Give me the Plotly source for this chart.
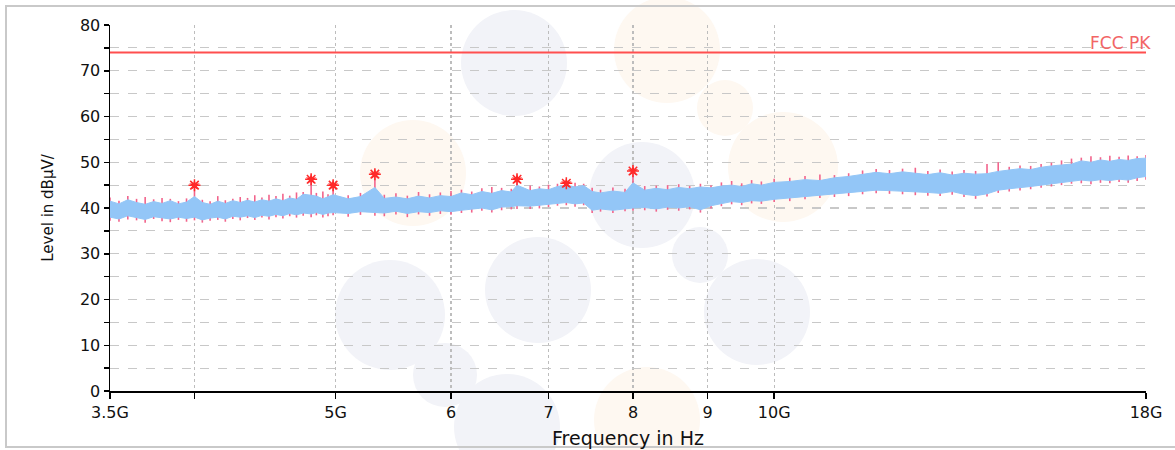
import math
import plotly.graph_objects as go

# ---------------- data ----------------
freq_ghz = [3.50, 3.55, 3.60, 3.65, 3.70, 3.75, 3.80, 3.85, 3.90, 3.95,
            4.00, 4.05, 4.10, 4.15, 4.20, 4.25, 4.30, 4.35, 4.40, 4.45,
            4.50, 4.55, 4.60, 4.65, 4.70, 4.75, 4.81, 4.85, 4.90, 4.94,
            4.98, 5.10, 5.20, 5.32, 5.40, 5.50, 5.60, 5.70, 5.80, 5.90,
            6.00, 6.10, 6.20, 6.30, 6.40, 6.50, 6.60, 6.66, 6.80, 6.90,
            7.00, 7.10, 7.20, 7.30, 7.40, 7.50, 7.60, 7.75, 7.90, 8.00,
            8.15, 8.30, 8.45, 8.60, 8.75, 8.90, 9.05, 9.20, 9.35, 9.50,
            9.65, 9.80, 10.00, 10.25, 10.50, 10.75, 11.00, 11.25, 11.50, 11.75,
            12.00, 12.25, 12.50, 12.75, 13.00, 13.25, 13.50, 13.75, 14.00, 14.25,
            14.50, 14.75, 15.00, 15.25, 15.50, 15.75, 16.00, 16.25, 16.50, 16.75,
            17.00, 17.25, 17.50, 17.75, 18.00]

blue_hi = [41.5, 40.9, 41.8, 41.2, 40.8, 41.4, 41.0, 41.6, 40.9, 41.3,
           42.5, 41.2, 40.8, 41.5, 41.0, 41.6, 41.2, 41.7, 41.3, 41.8,
           41.5, 42.0, 41.6, 42.2, 41.9, 43.0, 42.8, 42.6, 42.0, 42.5,
           42.9, 42.0, 42.5, 44.5, 42.1, 42.4, 42.0, 42.6, 42.2, 42.7,
           42.5, 43.3, 42.9, 43.6, 43.2, 43.8, 43.5, 45.0, 43.8, 44.2,
           44.0, 44.7, 45.0, 44.6, 44.9, 43.6, 43.3, 43.7, 43.4, 45.5,
           43.9, 44.3, 44.0, 44.5, 44.2, 44.6, 44.4, 44.8, 45.0, 44.7,
           45.3, 45.0, 45.6, 45.8, 46.2, 46.0, 46.6, 46.9, 47.4, 47.8,
           47.5, 47.9, 47.6, 47.3, 47.7, 47.2, 47.6, 47.4, 47.5, 48.0,
           48.3, 48.6, 48.4, 48.9, 49.2, 49.4, 49.6, 50.3, 50.0, 50.5,
           50.2, 50.6, 50.4, 50.8, 50.9]

blue_lo = [38.0, 37.6, 38.3, 37.9, 37.5, 38.1, 37.8, 37.6, 38.0, 37.7,
           38.0, 37.4, 37.8, 38.0, 37.6, 38.2, 38.0, 38.3, 37.9, 38.4,
           38.2, 38.6, 38.3, 38.8, 38.5, 38.9, 38.7, 39.0, 38.6, 38.9,
           39.0, 38.8, 39.2, 39.0, 38.9, 39.3, 38.8, 39.2, 39.0, 39.4,
           39.2, 39.5, 39.7, 40.0, 39.6, 40.2, 40.3, 40.5, 40.4, 40.6,
           40.8, 41.0, 41.2, 40.9, 41.1, 39.5, 39.8, 39.5, 39.9, 40.0,
           40.1, 39.8, 40.2, 40.0, 40.3, 39.6, 40.5, 41.0, 41.4, 41.2,
           41.6, 41.5, 41.9, 42.2, 42.5, 42.8, 43.0, 43.3, 43.6, 43.9,
           43.8, 43.7, 43.5, 43.4, 43.2, 43.6, 43.0, 42.7, 43.1, 43.9,
           44.2, 44.4, 44.7, 45.0, 45.3, 45.6, 45.9, 46.1, 45.9, 46.2,
           46.0, 46.3, 46.1, 46.6, 46.9]

pink_hi = [42.3, 41.6, 42.6, 42.0, 42.4, 41.9, 42.2, 42.0, 41.5, 42.1,
           45.0, 41.8, 41.5, 42.6, 41.7, 42.0, 42.4, 42.2, 42.8, 42.3,
           42.9, 42.6, 43.1, 42.7, 43.4, 43.5, 46.3, 43.3, 43.6, 43.0,
           45.0, 42.8, 43.3, 47.4, 42.9, 43.2, 42.7, 43.5, 43.0, 43.4,
           43.7, 44.0, 43.6, 44.3, 44.6, 44.4, 44.2, 46.3, 44.9, 44.7,
           45.1, 45.3, 45.4, 45.5, 45.3, 44.4, 44.0, 44.5, 44.2, 48.1,
           44.8, 44.9, 45.0, 45.2, 44.8, 45.3, 45.0, 45.6, 45.9, 45.4,
           46.1, 45.8, 46.4, 46.6, 47.0, 47.3, 47.2, 47.6, 48.2, 48.5,
           48.3, 48.6, 48.8, 48.1, 48.4, 48.0, 48.3, 48.1, 49.6, 50.0,
           49.0, 49.3, 49.2, 49.6, 49.9, 50.4, 50.8, 51.0, 51.3, 51.1,
           51.4, 51.2, 51.5, 51.3, 51.6]

pink_lo = [37.2, 37.0, 37.5, 37.3, 36.8, 37.6, 37.1, 36.9, 37.4, 37.0,
           37.3, 36.8, 37.2, 37.4, 37.0, 37.6, 37.3, 37.8, 37.4, 37.9,
           37.5, 38.0, 37.7, 38.2, 37.9, 38.3, 38.0, 38.4, 37.9, 38.2,
           38.4, 38.1, 38.5, 38.3, 38.2, 38.6, 38.0, 38.6, 38.3, 38.7,
           38.5, 38.9, 39.0, 39.4, 39.0, 39.5, 39.7, 39.8, 39.8, 39.9,
           40.2, 40.5, 40.6, 40.3, 40.6, 38.9, 39.2, 38.9, 39.3, 39.4,
           39.5, 39.2, 39.6, 39.4, 39.7, 39.0, 39.9, 40.4, 40.8, 40.6,
           41.0, 40.9, 41.3, 41.5, 41.9, 42.2, 42.4, 42.6, 43.0, 43.2,
           43.1, 43.0, 42.8, 42.7, 42.6, 42.9, 42.4, 42.0, 42.5, 43.3,
           43.6, 43.8, 44.1, 44.4, 44.7, 45.0, 45.3, 45.4, 45.2, 45.5,
           45.4, 45.7, 45.5, 45.9, 46.2]

peak_ghz = [4.00, 4.81, 4.98, 5.32, 6.66, 7.20, 8.00]
peak_level = [45.0, 46.3, 45.0, 47.4, 46.3, 45.4, 48.1]

limit_ghz = [3.5, 18.0]
limit_level = [74.0, 74.0]
limit_name = "FCC PK"

x_tick_ghz = [3.5, 4, 5, 6, 7, 8, 9, 10, 18]
x_tick_text = ["3.5G", "", "5G", "6", "7", "8", "9", "10G", "18G"]
y_tick_vals = list(range(0, 85, 5))
y_tick_text = [str(v) if v % 10 == 0 else "" for v in y_tick_vals]

x_title = "Frequency in Hz"
y_title = "Level in dBµV/"

# ---------------- figure ----------------
G = 1e9
freq_hz = [f * G for f in freq_ghz]
FONT = "DejaVu Sans"

# pink peak trace drawn as vertical strokes
px, py = [], []
for f, lo, hi in zip(freq_hz, pink_lo, pink_hi):
    px += [f, f, None]
    py += [lo, hi, None]

fig = go.Figure()
fig.add_trace(go.Scatter(x=px, y=py, mode="lines",
                         line=dict(color="#f2648c", width=1.6),
                         hoverinfo="skip", showlegend=False))
fig.add_trace(go.Scatter(x=freq_hz, y=blue_lo, mode="lines",
                         line=dict(color="#93c6f7", width=1),
                         hoverinfo="skip", showlegend=False))
fig.add_trace(go.Scatter(x=freq_hz, y=blue_hi, mode="lines",
                         line=dict(color="#93c6f7", width=1),
                         fill="tonexty", fillcolor="#93c6f7",
                         hoverinfo="skip", showlegend=False))
fig.add_trace(go.Scatter(x=[f * G for f in limit_ghz], y=limit_level, mode="lines",
                         line=dict(color="#ff4f4f", width=2),
                         hoverinfo="skip", showlegend=False))
fig.add_trace(go.Scatter(x=[f * G for f in peak_ghz], y=peak_level, mode="markers",
                         marker=dict(symbol="star", size=8, color="#ff1a1a",
                                     line=dict(width=0)),
                         hoverinfo="skip", showlegend=False))
fig.add_trace(go.Scatter(x=[f * G for f in peak_ghz], y=peak_level, mode="markers",
                         marker=dict(symbol="asterisk-open", size=10, color="#ff2a2a",
                                     line=dict(color="#ff2a2a", width=1.5)),
                         hoverinfo="skip", showlegend=False))

fig.add_annotation(x=1, xref="paper", y=limit_level[-1], yref="y",
                   text=limit_name, showarrow=False, xanchor="right",
                   yanchor="bottom", xshift=7, yshift=-3,
                   font=dict(family=FONT, size=17, color="#f26565"))

# layout geometry (pixels of the 1175x450 page)
W, H = 1175, 450
L, R, T, B = 110, 29, 25, 59
pw, ph = W - L - R, H - T - B


def to_paper_x(p):
    return (p - L) / pw


def to_paper_y(p):
    return (H - B - p) / ph


shapes = []
# faint watermark blobs
blobs = [(514, 63, 53, "#f2f3f8"), (642, 195, 53, "#f2f3f8"), (757, 312, 53, "#f2f3f8"),
         (700, 255, 28, "#f2f3f8"), (538, 290, 53, "#f2f3f8"), (390, 315, 55, "#f2f3f8"),
         (507, 427, 53, "#f2f3f8"), (445, 375, 32, "#f2f3f8"),
         (667, 50, 53, "#fef8f1"), (783, 167, 55, "#fef8f1"), (725, 108, 28, "#fef8f1"),
         (413, 173, 53, "#fef8f1"), (647, 420, 53, "#fef8f1")]
for cx, cy, r, col in blobs:
    shapes.append(dict(type="circle", xref="paper", yref="paper",
                       x0=to_paper_x(cx - r), x1=to_paper_x(cx + r),
                       y0=to_paper_y(cy + r), y1=to_paper_y(cy - r),
                       fillcolor=col, line=dict(width=0), layer="below"))
# outer frame
shapes.append(dict(type="rect", xref="paper", yref="paper",
                   x0=to_paper_x(6), x1=to_paper_x(1180),
                   y0=to_paper_y(447), y1=to_paper_y(6),
                   line=dict(color="#c9c9c9", width=2), layer="below"))

fig.update_layout(
    width=W, height=H,
    margin=dict(l=L, r=R, t=T, b=B, autoexpand=False),
    paper_bgcolor="white", plot_bgcolor="rgba(0,0,0,0)",
    font=dict(family=FONT, color="#111111"),
    hovermode=False,
    shapes=shapes,
    xaxis=dict(type="log",
               range=[math.log10(3.5 * G), math.log10(18 * G)],
               tickvals=[v * G for v in x_tick_ghz], ticktext=x_tick_text,
               ticks="outside", ticklen=6, tickcolor="black", tickwidth=1.5,
               tickfont=dict(family=FONT, size=16, color="#111111"),
               showline=True, linecolor="black", linewidth=1.5,
               showgrid=True, gridcolor="#bdbdbd", griddash="dot", gridwidth=1.3,
               zeroline=False,
               title=dict(text=x_title, font=dict(family=FONT, size=19, color="#111111"),
                          standoff=11)),
    yaxis=dict(range=[0, 80],
               tickvals=y_tick_vals, ticktext=y_tick_text,
               ticks="outside", ticklen=5, tickcolor="black", tickwidth=1.5,
               tickfont=dict(family=FONT, size=16, color="#111111"),
               showline=True, linecolor="black", linewidth=1.5,
               showgrid=True, gridcolor="#c8c8c8", griddash="dash", gridwidth=1.2,
               zeroline=False,
               title=dict(text=y_title, font=dict(family=FONT, size=15, color="#111111"),
                          standoff=22)),
)

fig.write_html("out.html",
               config={"displayModeBar": False, "staticPlot": True},
               post_script="document.body.style.margin='0px';"
                           "document.body.style.overflow='hidden';")
